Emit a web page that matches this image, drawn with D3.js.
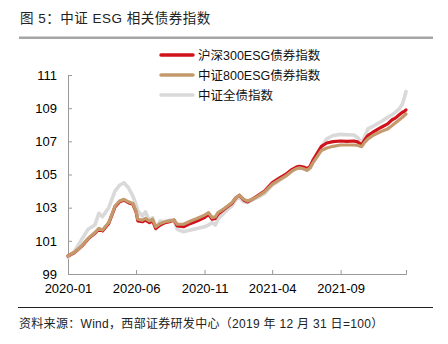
<!DOCTYPE html>
<html>
<head>
<meta charset="utf-8">
<script src="https://cdn.jsdelivr.net/npm/d3@7"></script>
<style>
  body { margin: 0; background: #fff; }
  text { font-family: "Liberation Sans", Arial, "Noto Sans CJK SC", sans-serif; }
</style>
</head>
<body>
<svg id="chart" width="448" height="344"></svg>
<script>
// index values, 2019-12-31 = 100
var dates = [
  "2020-01-01","2020-01-15","2020-02-01","2020-02-15","2020-03-01","2020-03-10","2020-03-18",
  "2020-04-01","2020-04-15","2020-04-25","2020-05-05","2020-05-15","2020-05-25","2020-06-01",
  "2020-06-05","2020-06-15","2020-06-22","2020-07-01","2020-07-08","2020-07-15","2020-07-25",
  "2020-08-05","2020-08-15","2020-08-25","2020-09-01","2020-09-15","2020-10-01","2020-10-15",
  "2020-11-01","2020-11-10","2020-11-18","2020-11-25","2020-12-01","2020-12-15","2021-01-01",
  "2021-01-10","2021-01-18","2021-01-28","2021-02-05","2021-02-15","2021-03-01","2021-03-15",
  "2021-04-01","2021-04-15","2021-05-01","2021-05-15","2021-05-25","2021-06-01","2021-06-10",
  "2021-06-18","2021-06-25","2021-07-01","2021-07-10","2021-07-20","2021-08-01","2021-08-15",
  "2021-09-01","2021-09-15","2021-10-01","2021-10-10","2021-10-18","2021-10-25","2021-11-01",
  "2021-11-15","2021-12-01","2021-12-15","2021-12-25","2022-01-01","2022-01-10","2022-01-17",
  "2022-01-21","2022-01-25"
];

var zzAll = [
  100.0, 100.35, 101.1, 101.7, 101.95, 102.66, 102.45,
  103.0, 104.0, 104.35, 104.5, 104.2, 103.7, 103.2,
  102.8, 102.5, 102.75, 102.2, 102.4, 101.7, 102.2,
  102.15, 102.25, 102.2, 101.7, 101.55, 101.65, 101.75,
  101.85, 101.95, 102.1, 101.95, 102.3, 102.7, 103.1,
  103.5, 103.6, 103.35, 103.3, 103.45, 103.65, 103.85,
  104.35, 104.6, 104.9, 105.2, 105.35, 105.4, 105.35,
  105.25, 105.4, 105.8, 106.25, 106.65, 107.15, 107.35,
  107.42, 107.4, 107.38, 107.2, 106.88, 107.3, 107.75,
  107.95, 108.2, 108.45, 108.6, 108.75, 108.95, 109.25,
  109.6, 110.0
];

var zz800Esg = [
  100.1, 100.3, 100.7, 101.15, 101.5, 101.75, 101.65,
  102.1, 103.1, 103.4, 103.5, 103.35, 103.25, 102.8,
  102.3, 102.25, 102.35, 102.2, 102.3, 101.85, 102.05,
  102.15, 102.2, 102.25, 102.0, 102.0, 102.2, 102.35,
  102.55, 102.7, 102.4, 102.45, 102.7, 102.95, 103.3,
  103.6, 103.75, 103.5, 103.4, 103.5, 103.7, 103.95,
  104.4, 104.65, 104.9, 105.2, 105.35, 105.4, 105.35,
  105.25, 105.4, 105.7, 106.05, 106.45, 106.6, 106.7,
  106.78, 106.78, 106.78, 106.75, 106.68, 106.95, 107.15,
  107.4, 107.6, 107.75, 107.95, 108.1, 108.3, 108.45,
  108.55, 108.65
];

var hs300Esg = [
  100.1, 100.28, 100.68, 101.12, 101.45, 101.7, 101.6,
  102.05, 103.05, 103.35, 103.45, 103.3, 103.2, 102.75,
  102.2, 102.15, 102.25, 102.1, 102.2, 101.75, 101.95,
  102.1, 102.15, 102.25, 101.9, 101.85, 102.05, 102.2,
  102.4, 102.6, 102.3, 102.35, 102.6, 102.9, 103.25,
  103.6, 103.75, 103.45, 103.35, 103.5, 103.75, 104.0,
  104.5, 104.75, 105.0, 105.3, 105.45, 105.5, 105.45,
  105.35, 105.5, 105.85, 106.25, 106.7, 106.9, 106.98,
  107.02, 107.0, 107.02, 106.95, 106.78, 107.1, 107.35,
  107.6, 107.85, 108.05, 108.3, 108.4, 108.6, 108.75,
  108.8, 108.9
];

var seriesNames = ["沪深300ESG债券指数", "中证800ESG债券指数", "中证全债指数"];
var seriesColors = ["#d0121b", "#c49a6c", "#d9d9d9"];
var xTickLabels = ["2020-01", "2020-06", "2020-11", "2021-04", "2021-09"];
var yTicks = [99, 101, 103, 105, 107, 109, 111];

var parseDay = d3.timeParse("%Y-%m-%d"),
    parseMonth = d3.timeParse("%Y-%m");

var svg = d3.select("#chart");

var x = d3.scaleTime()
  .domain(d3.extent(dates, parseDay))
  .range([68, 406]);

var y = d3.scaleLinear()
  .domain([99, 111])
  .range([274, 75]);

// title and rule under it
svg.append("text")
  .attr("x", 20).attr("y", 23)
  .attr("font-size", 13.5)
  .attr("letter-spacing", 0.5)
  .attr("fill", "#222")
  .text("图 5：中证 ESG 相关债券指数");

svg.append("rect")
  .attr("x", 19).attr("y", 36.5)
  .attr("width", 414).attr("height", 2.5)
  .attr("fill", "#a6a6a6");

// axes
var yAxis = svg.append("g")
  .attr("transform", "translate(68,0)")
  .call(d3.axisRight(y).tickValues(yTicks).tickSize(4).tickFormat(d3.format("d")));
yAxis.selectAll("text")
  .attr("x", -11)
  .attr("text-anchor", "end")
  .attr("font-size", 13)
  .attr("fill", "#000");

var xAxis = svg.append("g")
  .attr("transform", "translate(0,274)")
  .call(d3.axisTop(x)
    .tickValues(xTickLabels.map(parseMonth))
    .tickSize(4)
    .tickFormat(d3.timeFormat("%Y-%m")));
xAxis.selectAll("text")
  .attr("y", 19)
  .attr("dy", 0)
  .attr("font-size", 13)
  .attr("fill", "#000");

svg.selectAll(".domain, .tick line")
  .attr("stroke", "#999");

// lines: full bond index at the back, then 300 ESG, 800 ESG on top
var line = d3.line()
  .x(function(d) { return x(d.date); })
  .y(function(d) { return y(d.value); });

function toPoints(values) {
  return values.map(function(v, i) { return { date: parseDay(dates[i]), value: v }; });
}

var drawOrder = [
  { values: zzAll, color: seriesColors[2], width: 3.6 },
  { values: hs300Esg, color: seriesColors[0], width: 3.2 },
  { values: zz800Esg, color: seriesColors[1], width: 3.2 }
];

svg.append("g")
  .selectAll("path")
  .data(drawOrder)
  .enter()
  .append("path")
  .attr("d", function(d) { return line(toPoints(d.values)); })
  .attr("fill", "none")
  .attr("stroke", function(d) { return d.color; })
  .attr("stroke-width", function(d) { return d.width; })
  .attr("stroke-linejoin", "round")
  .attr("stroke-linecap", "round");

// legend
var legend = svg.append("g")
  .selectAll("g")
  .data(seriesNames)
  .enter()
  .append("g")
  .attr("transform", function(d, i) { return "translate(161," + (55 + i * 20) + ")"; });

legend.append("line")
  .attr("x1", 0).attr("x2", 32)
  .attr("stroke", function(d, i) { return seriesColors[i]; })
  .attr("stroke-width", 3.5)
  .attr("stroke-linecap", "round");

legend.append("text")
  .attr("x", 37).attr("y", 4.5)
  .attr("font-size", 12.5)
  .attr("fill", "#111")
  .text(function(d) { return d; });

// footer
svg.append("line")
  .attr("x1", 18).attr("x2", 433)
  .attr("y1", 307.5).attr("y2", 307.5)
  .attr("stroke", "#222")
  .attr("stroke-width", 1);

svg.append("text")
  .attr("x", 19).attr("y", 328)
  .attr("font-size", 12)
  .attr("letter-spacing", 0.3)
  .attr("fill", "#222")
  .text("资料来源：Wind，西部证券研发中心（2019 年 12 月 31 日=100）");
</script>
</body>
</html>
